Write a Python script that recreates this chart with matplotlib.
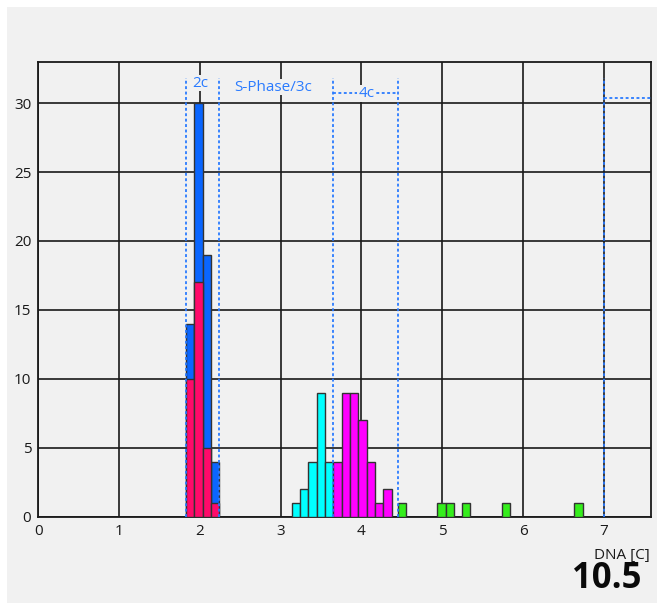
import matplotlib
matplotlib.use("Agg")
import matplotlib.pyplot as plt
from matplotlib.patches import Rectangle

plt.rcParams['font.family'] = ['Open Sans', 'DejaVu Sans']

# DNA content histogram (units of C)
bin_width = 0.103

g1_left = [1.828, 1.931, 2.034, 2.137]
g1_total = [14, 30, 19, 4]
g1_subset = [10, 17, 5, 1]

s_left = [3.137, 3.240, 3.343, 3.446, 3.549]
s_counts = [1, 2, 4, 9, 4]

g2_left = [3.652, 3.755, 3.858, 3.961, 4.064, 4.167, 4.270]
g2_counts = [4, 9, 9, 7, 4, 1, 2]

hyper_left = [4.448, 4.938, 5.046, 5.240, 5.735, 6.634]
hyper_counts = [1, 1, 1, 1, 1, 1]

gate_x = [1.828, 2.24, 3.651, 4.448, 7.0]
gate_labels = ["2c", "S-Phase/3c", "4c"]
dna_index = "10.5"

panel = '#f1f1f1'
gate_color = '#2a7bff'
edge = '#333333'

fig = plt.figure(figsize=(6.64, 6.05), dpi=100)
fig.patch.set_facecolor('white')
fig.add_artist(Rectangle((7 / 664, 2 / 605), 650 / 664, 596 / 605,
                         transform=fig.transFigure, facecolor=panel,
                         edgecolor='none', zorder=-10))

ax = fig.add_axes([38.3 / 664, 88.3 / 605, 612.4 / 664, 455 / 605])
ax.set_facecolor(panel)

bar_kw = dict(width=bin_width, align='edge', edgecolor=edge, linewidth=1.0, zorder=3)
ax.bar(g1_left, g1_total, color='#0a66ff', **bar_kw)
ax.bar(g1_left, g1_subset, color='#ff0a6a', **bar_kw)
ax.bar(s_left, s_counts, color='#00ffff', **bar_kw)
ax.bar(g2_left, g2_counts, color='#ff00ff', **bar_kw)
ax.bar(hyper_left, hyper_counts, color='#35ee1c', **bar_kw)

# gate markers
dot = (0, (1.6, 1.4))
for gx in gate_x:
    ax.plot([gx, gx], [0, 31.8], color=gate_color, lw=1.3, ls=dot, zorder=5)
ax.plot([gate_x[2], gate_x[3]], [30.7, 30.7], color=gate_color, lw=1.3, ls=dot, zorder=5)
ax.plot([gate_x[4], 7.58], [30.4, 30.4], color=gate_color, lw=1.3, ls=dot, zorder=5)

txt_kw = dict(color=gate_color, fontsize=11, ha='center', va='center', zorder=6,
              bbox=dict(facecolor=panel, edgecolor='none', pad=0.5))
ax.text(2.01, 31.45, gate_labels[0], **txt_kw)
ax.text(2.91, 31.15, gate_labels[1], **txt_kw)
ax.text(4.06, 30.7, gate_labels[2], **txt_kw)

ax.set_xlim(0, 7.58)
ax.set_ylim(0, 33)
ax.set_xticks(range(0, 8))
ax.set_yticks(range(0, 31, 5))
ax.grid(True, color='#1a1a1a', lw=1.2, zorder=0)
ax.set_axisbelow(True)
ax.tick_params(length=0, pad=5, labelsize=11, colors='#1a1a1a')
for s in ax.spines.values():
    s.set_color('#1a1a1a')
    s.set_linewidth(1.3)

fig.text(650 / 664, (605 - 555) / 605, 'DNA [C]', ha='right', va='center',
         fontsize=11, color='#1a1a1a')
fig.text(641 / 664, (605 - 579) / 605, dna_index, ha='right', va='center',
         fontsize=25, fontweight='bold', color='#0a0a0a')

fig.savefig('out.png', dpi=100, facecolor=fig.get_facecolor())
